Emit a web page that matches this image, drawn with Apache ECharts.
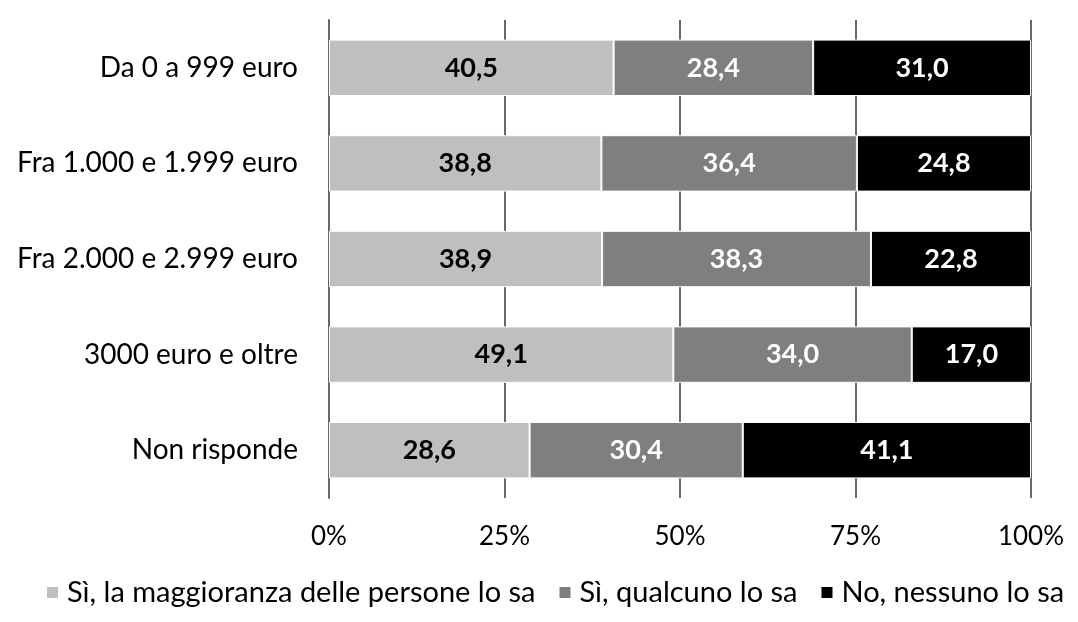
<!DOCTYPE html>
<html>
<head>
<meta charset="utf-8">
<script src="https://cdn.jsdelivr.net/npm/echarts@6/dist/echarts.min.js"></script>
<style>
  html, body { margin: 0; padding: 0; background: #fff; }
  #chart { width: 1078px; height: 622px; }
</style>
</head>
<body>
<div id="chart"></div>
<script>
const categories = ['Da 0 a 999 euro', 'Fra 1.000 e 1.999 euro', 'Fra 2.000 e 2.999 euro', '3000 euro e oltre', 'Non risponde'];
const seriesNames = ['Sì, la maggioranza delle persone lo sa', 'Sì, qualcuno lo sa', 'No, nessuno lo sa'];
const maggioranza = [40.5, 38.8, 38.9, 49.1, 28.6];
const qualcuno = [28.4, 36.4, 38.3, 34.0, 30.4];
const nessuno = [31.0, 24.8, 22.8, 17.0, 41.1];
const xTicks = [0, 25, 50, 75, 100];

const colors = ['#bfbfbf', '#7f7f7f', '#000000'];
const labelColors = ['#000000', '#ffffff', '#ffffff'];
const font = 'Lato, "Open Sans", sans-serif';

const chart = echarts.init(document.getElementById('chart'));

// excel scales the stack to 100%, so each row is normalised to its total
const rows = [maggioranza, qualcuno, nessuno];
const totals = categories.map((c, i) => maggioranza[i] + qualcuno[i] + nessuno[i]);

const series = rows.map((vals, k) => ({
  name: seriesNames[k],
  type: 'bar',
  stack: 'tot',
  barCategoryGap: '41%',
  itemStyle: { color: colors[k], borderColor: '#ffffff', borderWidth: 1 },
  label: {
    show: true,
    position: 'inside',
    color: labelColors[k],
    fontFamily: font,
    fontWeight: 'bold',
    fontSize: 27,
    formatter: p => vals[p.dataIndex].toFixed(1).replace('.', ',')
  },
  data: vals.map((v, i) => v / totals[i] * 100)
}));

chart.setOption({
  animation: false,
  grid: { left: 329, right: 47, top: 20, bottom: 124 },
  legend: {
    top: 573,
    left: 40,
    itemWidth: 13,
    itemHeight: 13,
    itemGap: 22,
    icon: 'rect',
    textStyle: { fontFamily: font, fontSize: 29, color: '#000', padding: [0, 0, 0, 3] },
    data: seriesNames
  },
  xAxis: {
    type: 'value',
    min: 0,
    max: 100,
    interval: 25,
    axisLine: { show: false },
    axisTick: { show: false },
    axisLabel: {
      margin: 26,
      fontFamily: font,
      fontSize: 26,
      color: '#000',
      formatter: v => xTicks.includes(v) ? v + '%' : ''
    },
    splitLine: { show: true, lineStyle: { color: '#5f6b6b', width: 2 } }
  },
  yAxis: {
    type: 'category',
    inverse: true,
    data: categories,
    axisLine: { show: true, lineStyle: { color: '#5f6b6b', width: 2 } },
    axisTick: { show: false },
    axisLabel: { margin: 31, fontFamily: font, fontSize: 28, color: '#000' }
  },
  series: series
});
</script>
</body>
</html>
